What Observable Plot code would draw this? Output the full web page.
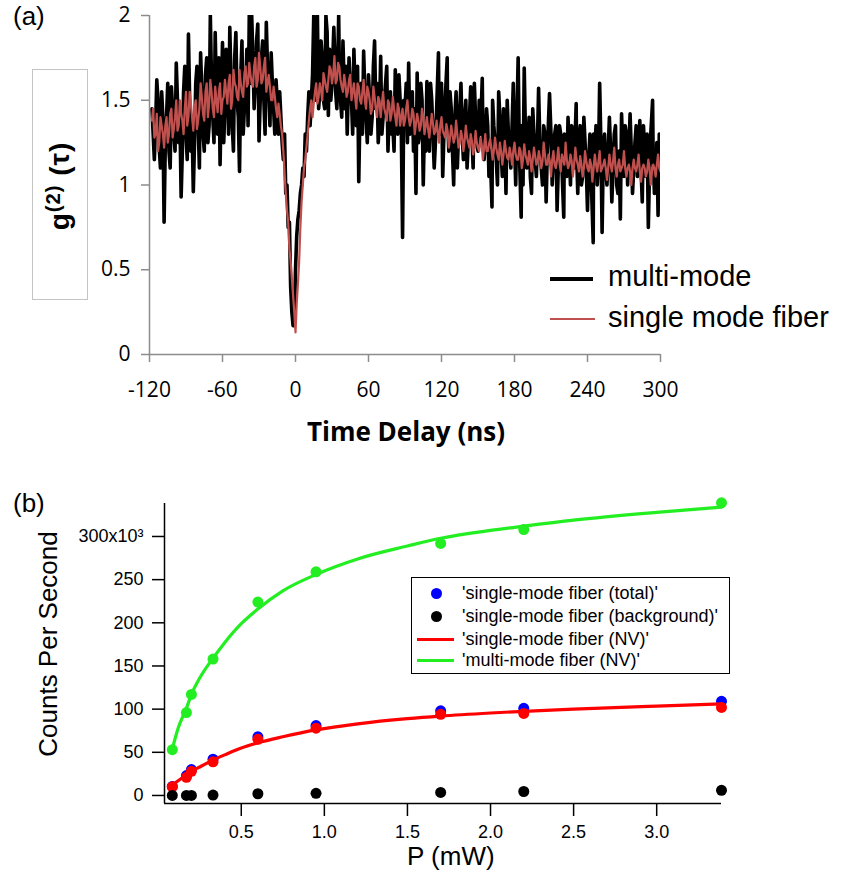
<!DOCTYPE html>
<html>
<head>
<meta charset="utf-8">
<script src="https://cdn.jsdelivr.net/npm/d3@7"></script>
<script src="https://cdn.jsdelivr.net/npm/@observablehq/plot@0.6"></script>
<style>
  body { margin: 0; background: #fff; }
  #wrap { position: relative; width: 851px; height: 875px; overflow: hidden; background: #fff; }
  #wrap svg { position: absolute; left: 0; overflow: visible; }
  .t { position: absolute; white-space: nowrap; line-height: 1; color: #000; }
  .arial { font-family: "Liberation Sans", Arial, sans-serif; }
  .open { font-family: "Open Sans", sans-serif; }
</style>
</head>
<body>
<div id="wrap">
  <div class="t arial" style="left:13px; top:3px; font-size:26px;">(a)</div>
  <div class="t arial" style="left:13px; top:490px; font-size:26px;">(b)</div>

  <div style="position:absolute; left:32px; top:69px; width:56px; height:231px; box-sizing:border-box; border:1px solid #c4c4c4;"></div>
  <div class="t arial" style="left:60px; top:186px; font-size:28px; font-weight:bold; letter-spacing:1px; transform:translate(-50%,-50%) rotate(-90deg);">g<sup style="font-size:0.72em; vertical-align:0.45em; line-height:0">(2)</sup>&nbsp;(τ)</div>

  <div class="t open" style="left:406px; top:418px; font-size:26px; font-weight:bold; transform:translateX(-50%);">Time Delay (ns)</div>

  <div style="position:absolute; left:550px; top:277px; width:43px; height:4px; background:#000;"></div>
  <div class="t arial" style="left:608px; top:261.5px; font-size:29px;">multi-mode</div>
  <div style="position:absolute; left:550px; top:318px; width:45px; height:2px; background:#c0504d;"></div>
  <div class="t arial" style="left:608px; top:302.5px; font-size:29px;">single mode fiber</div>

  <div class="t arial" style="left:48px; top:644px; font-size:26px; transform:translate(-50%,-50%) rotate(-90deg);">Counts Per Second</div>
  <div class="t arial" style="left:407px; top:843px; font-size:26px;">P (mW)</div>

  <div style="position:absolute; left:411px; top:577px; width:319px; height:97px; box-sizing:border-box; border:1.5px solid #000; background:#fff;"></div>
  <div style="position:absolute; left:430.5px; top:587.5px; width:11px; height:11px; border-radius:50%; background:#0000ff;"></div>
  <div class="t arial" style="left:462px; top:584.2px; font-size:18px;">'single-mode fiber (total)'</div>
  <div style="position:absolute; left:430.5px; top:610.5px; width:11px; height:11px; border-radius:50%; background:#000;"></div>
  <div class="t arial" style="left:462px; top:607px; font-size:18px;">'single-mode fiber (background)'</div>
  <div style="position:absolute; left:417px; top:637.5px; width:37px; height:3px; background:#ff0000;"></div>
  <div class="t arial" style="left:462px; top:629.8px; font-size:18px;">'single-mode fiber (NV)'</div>
  <div style="position:absolute; left:417px; top:658.5px; width:37px; height:3px; background:#22ee22;"></div>
  <div class="t arial" style="left:462px; top:651px; font-size:18px;">'multi-mode fiber (NV)'</div>
</div>
<script>
// ---------- Panel (a): g2(tau) ----------
const delayTicks = [-120, -60, 0, 60, 120, 180, 240, 300];
const g2Ticks = [0, 0.5, 1, 1.5, 2];

// multi-mode fiber trace [delay ns, g2] (coarse readings)
const multiMode = [
[-118,1.45],[-116,1.15],[-114,1.62],[-112,1.22],[-110,1.55],[-108,0.78],[-106,1.4],[-104,1.2],[-102,1.58],[-100,1.3],
[-98,1.72],[-96,1.25],[-94,0.93],[-92,1.55],[-90,1.3],[-88,1.89],[-86,1.2],[-84,0.96],[-82,1.6],[-80,1.35],
[-78,1.78],[-76,1.3],[-74,1.65],[-72,1.25],[-70,2.0],[-68,1.4],[-66,1.9],[-64,1.3],[-62,1.12],[-60,1.84],
[-58,1.45],[-56,1.7],[-54,1.93],[-52,1.35],[-50,1.75],[-48,1.5],[-46,1.08],[-44,1.85],[-42,1.45],[-40,1.8],
[-38,2.0],[-36,2.0],[-34,1.45],[-32,1.85],[-30,1.26],[-28,1.75],[-26,1.5],[-24,1.96],[-22,1.55],[-20,1.78],
[-18,1.45],[-16,1.62],[-14,1.3],[-12,1.4],[-10,1.15],[-9,1.3],[-8,0.95],[-7,1.0],[-6,0.75],[-5,0.78],
[-4,0.4],[-3,0.25],[-2,0.17],[-1,0.17],[0,0.5],[1,0.7],[2,0.8],[3,0.85],[4,0.95],[5,1.0],
[6,1.1],[7,1.05],[8,1.3],[10,1.4],[12,1.35],[14,1.65],[15,2.0],[16,1.5],[18,2.0],[20,1.55],
[22,1.75],[24,1.45],[26,1.9],[27,1.41],[28,1.8],[30,1.6],[31.5,1.93],[33,1.55],[35.5,2.0],[37,1.5],
[39,1.85],[40.5,1.45],[42.5,1.3],[44,1.75],[46,1.5],[48,1.8],[50,1.35],[52,1.02],[54,1.6],[56,1.79],
[58,1.4],[60,1.65],[62,1.3],[64,1.7],[66,1.45],[68,1.25],[70,1.76],[72,1.4],[74,1.6],[76,1.2],
[78,1.55],[80,1.35],[82,1.68],[84,1.3],[86,1.5],[88,0.69],[90,1.45],[92,1.25],[93,1.72],[95,1.4],
[97,1.2],[99,0.95],[100,1.66],[102,1.3],[104,1.5],[105,1.0],[106,1.35],[108,1.61],[110,1.2],[112,1.5],
[114,1.1],[116,1.45],[117.5,1.78],[119,1.3],[121,1.05],[123,1.5],[124.7,1.75],[126,1.2],[128,1.45],[130,1.0],
[132,1.55],[134,1.3],[136,1.6],[138,1.15],[140,1.5],[142,1.25],[144,1.58],[146,1.1],[148,1.4],[150,1.2],
[152,1.3],[153.5,1.63],[155,1.15],[157,1.45],[159,1.05],[161.5,0.87],[163,1.35],[165,1.15],[167,1.55],[169,1.2],
[171,1.45],[173,0.95],[175,1.3],[177,1.1],[179,1.6],[181,1.0],[183,1.75],[185.5,0.81],[188,1.69],[190,1.1],
[192,1.4],[194,0.95],[196,1.3],[198,1.05],[199.8,1.57],[202,1.1],[204,1.35],[206,0.9],[208.8,1.54],[211,1.0],
[213,1.3],[215,0.85],[217,1.35],[219,1.1],[220.5,0.81],[222,1.2],[224,1.4],[226,1.0],[228,1.3],[230.7,1.48],
[232,0.95],[234,1.35],[236,1.05],[238,1.25],[240,0.85],[242,1.3],[244.7,0.66],[246,1.2],[248,1.0],[250,1.6],
[252,0.72],[254,1.3],[256,1.0],[258,1.4],[260,0.9],[262,1.3],[264,1.0],[266,1.2],[267,0.8],[268,1.42],
[270,1.05],[272,1.3],[275,1.42],[277,0.95],[279,1.25],[281,1.05],[283,1.38],[285,0.9],[287,1.2],[290,0.75],
[292,1.3],[293.5,1.5],[295,0.95],[297,1.25],[298,0.82],[300,1.1]
];
// multi-mode fiber trace, in-between readings
const multiModeFine = [
[-117,1.3],[-115,1.35],[-113,1.5],[-111,1.1],[-109,1.4],[-107,1.25],[-105,1.6],[-103,1.1],[-101,1.45],[-99,1.2],
[-97,1.5],[-95,1.4],[-93,1.2],[-91,1.7],[-89,1.15],[-87,1.5],[-85,1.35],[-83,1.25],[-81,1.7],[-79,1.1],
[-77,1.55],[-75,1.2],[-73,1.75],[-71,1.35],[-69,1.6],[-67,1.25],[-65,1.55],[-63,1.75],[-61,1.5],[-59,1.25],
[-57,1.8],[-55,1.3],[-53,1.6],[-51,1.2],[-49,1.9],[-47,1.4],[-45,1.65],[-43,1.3],[-41,1.55],[-39,1.35],
[-37,1.6],[-35,1.75],[-33,1.6],[-31,1.95],[-29,1.5],[-27,1.85],[-25,1.3],[-23,1.7],[-21,1.35],[-19,1.6],
[-17,1.3],[-15,1.5],[-13,1.55],[-11,1.25],
[9,1.2],[11,1.55],[13,1.5],[17,1.6],[19,1.45],[21,1.85],[23,1.5],[25,2.0],[29,1.5],[32.5,1.7],
[34,1.45],[36,1.7],[38,1.4],[41.5,1.7],[43,1.45],[45,1.6],[47,1.3],[49,1.55],[51,1.7],[53,1.45],
[55,1.3],[57,1.55],[59,1.25],[61,1.5],[63,1.4],[65,1.85],[67,1.6],[69,1.4],[71,1.3],[73,1.5],
[75,1.7],[77,1.45],[79,1.3],[81,1.2],[83,1.45],[85,1.65],[87,1.3],[89,1.5],[91,1.6],[94,1.3],
[96,1.55],[98,1.45],[101,1.25],[103,1.6],[107,1.2],[109,1.4],[111,1.6],[113,1.3],[115,1.25],[118,1.4],
[120,1.6],[122,1.3],[125,1.4],[127,1.55],[129,1.2],[131,1.4],[133,1.1],[135,1.45],[137,1.3],[139,1.4],
[141,1.1],[143,1.4],[145,1.3],[147,1.6],[149,1.25],[151,1.5],[154,1.3],[156,1.25],[158,1.35],[160,1.2],
[162,1.5],[164,1.25],[166,1.0],[168,1.4],[170,1.05],[172,1.3],[174,1.5],[176,1.2],[178,1.35],[180,1.25],
[182,1.4],[184,1.2],[186,1.35],[187,1.0],[189,1.3],[191,1.25],[193,1.05],[195,1.45],[197,1.15],[199,1.3],
[201,1.2],[203,1.0],[205,1.3],[207,1.2],[210,1.3],[212,1.15],[214,1.35],[216,1.1],[218,1.3],[221,1.3],
[223,1.05],[225,1.2],[227,1.35],[229,1.1],[231,1.2],[233,1.25],[235,1.0],[237,1.4],[239,1.1],[241,1.15],
[243,1.05],[245,1.3],[247,1.35],[249,1.15],[251,1.25],[253,1.2],[255,1.1],[257,1.2],[259,1.2],[261,1.1],
[263,1.35],[265,0.95],[269,1.2],[271,1.35],[273,1.0],[274,1.2],[276,1.2],[278,1.1],[280,1.35],[282,1.15],
[284,1.1],[286,1.35],[288,1.05],[289,1.3],[291,1.1],[294,1.15],[296,1.1],[299,1.3]
];

// single mode fiber trace [delay ns, g2] (coarse readings)
const singleMode = [
[-118,1.38],[-116,1.28],[-114,1.42],[-112,1.25],[-110,1.35],[-108,1.22],[-106,1.4],[-104,1.3],[-102,1.45],[-100,1.33],
[-98,1.5],[-96,1.35],[-94,1.42],[-92,1.3],[-90,1.55],[-88,1.4],[-86,1.48],[-84,1.32],[-82,1.5],[-80,1.38],
[-78,1.6],[-76,1.42],[-74,1.55],[-72,1.4],[-70,1.62],[-68,1.45],[-66,1.58],[-64,1.43],[-62,1.6],[-60,1.5],
[-58,1.62],[-56,1.48],[-54,1.65],[-52,1.5],[-50,1.6],[-48,1.52],[-46,1.68],[-44,1.55],[-42,1.66],[-40,1.58],
[-38,1.72],[-36,1.6],[-34,1.7],[-32,1.58],[-30,1.78],[-28,1.6],[-26,1.7],[-24,1.55],[-22,1.65],[-20,1.5],
[-18,1.58],[-16,1.45],[-14,1.48],[-12,1.35],[-10,1.2],[-8,0.95],[-7,0.85],[-6,0.78],[-5,0.62],[-4,0.55],
[-3,0.45],[-2,0.35],[-1,0.25],[0,0.13],[1,0.3],[2,0.42],[3,0.55],[4,0.75],[5,0.9],[6,1.0],
[7,1.1],[8,1.15],[10,1.3],[12,1.45],[14,1.4],[16,1.55],[18,1.48],[20,1.6],[22,1.5],[24,1.62],
[26,1.55],[28,1.7],[30,1.6],[32,1.76],[34,1.62],[36,1.7],[38,1.58],[40,1.65],[42,1.52],[44,1.62],
[46,1.5],[48,1.6],[50,1.45],[52,1.58],[54,1.48],[56,1.62],[58,1.45],[60,1.55],[62,1.42],[64,1.58],
[66,1.45],[68,1.52],[70,1.4],[72,1.55],[74,1.42],[76,1.5],[78,1.38],[80,1.52],[82,1.4],[84,1.48],
[86,1.35],[88,1.45],[90,1.38],[92,1.5],[94,1.35],[96,1.45],[98,1.3],[100,1.42],[102,1.32],[104,1.45],
[106,1.3],[108,1.4],[110,1.28],[112,1.42],[114,1.3],[116,1.38],[118,1.25],[120,1.4],[122,1.3],[124,1.36],
[126,1.22],[128,1.35],[130,1.25],[132,1.38],[134,1.22],[136,1.32],[138,1.2],[140,1.35],[142,1.25],[144,1.3],
[146,1.18],[148,1.32],[150,1.22],[152,1.28],[154,1.15],[156,1.3],[158,1.2],[160,1.27],[162,1.15],[164,1.28],
[166,1.18],[168,1.25],[170,1.12],[172,1.26],[174,1.16],[176,1.22],[178,1.12],[180,1.25],[182,1.15],[184,1.22],
[186,1.1],[188,1.24],[190,1.15],[192,1.2],[194,1.08],[196,1.22],[198,1.12],[200,1.2],[202,1.1],[204,1.25],
[206,1.12],[208,1.18],[210,1.05],[212,1.2],[214,1.1],[216,1.22],[218,1.08],[220,1.15],[222,1.25],[224,1.1],
[226,1.18],[228,1.05],[230,1.22],[232,1.12],[234,1.17],[236,1.05],[238,1.2],[240,1.1],[242,1.15],[244,1.02],
[246,1.18],[248,1.08],[250,1.2],[252,1.1],[254,1.15],[256,1.03],[258,1.18],[260,1.08],[262,1.22],[264,1.05],
[266,1.15],[268,1.1],[270,1.2],[272,1.05],[274,1.12],[276,1.0],[278,1.15],[280,1.08],[282,1.18],[284,1.02],
[286,1.12],[288,1.05],[290,1.15],[292,1.0],[294,1.12],[296,1.05],[298,1.18],[300,1.08]
];
// single mode fiber trace, in-between readings
const singleModeFine = [
[-117,1.45],[-115,1.3],[-113,1.2],[-111,1.4],[-109,1.3],[-107,1.35],[-105,1.25],[-103,1.42],[-101,1.28],
[-99,1.4],[-97,1.32],[-95,1.5],[-93,1.38],[-91,1.45],[-89,1.35],[-87,1.55],[-85,1.4],[-83,1.45],[-81,1.33],
[-79,1.45],[-77,1.52],[-75,1.38],[-73,1.6],[-71,1.48],[-69,1.55],[-67,1.4],[-65,1.5],[-63,1.55],[-61,1.42],
[-59,1.52],[-57,1.55],[-55,1.6],[-53,1.45],[-51,1.68],[-49,1.58],[-47,1.5],[-45,1.6],[-43,1.52],[-41,1.7],
[-39,1.6],[-37,1.65],[-35,1.58],[-33,1.75],[-31,1.62],[-29,1.7],[-27,1.62],[-25,1.75],[-23,1.6],[-21,1.58],
[-19,1.5],[-17,1.52],[-15,1.4],[-13,1.42],[-11,1.3],
[11,1.38],[13,1.5],[15,1.48],[17,1.6],[19,1.52],[21,1.56],[23,1.66],[25,1.58],[27,1.62],[29,1.68],
[31,1.65],[33,1.6],[35,1.72],[37,1.62],[39,1.55],[41,1.6],[43,1.55],[45,1.65],[47,1.55],[49,1.52],
[51,1.6],[53,1.5],[55,1.55],[57,1.5],[59,1.58],[61,1.5],[63,1.45],[65,1.52],[67,1.4],[69,1.5],
[71,1.48],[73,1.45],[75,1.38],[77,1.48],[79,1.42],[81,1.45],[83,1.35],[85,1.45],[87,1.4],[89,1.35],
[91,1.45],[93,1.4],[95,1.38],[97,1.42],[99,1.36],[101,1.38],[103,1.35],[105,1.4],[107,1.35],[109,1.33],
[111,1.35],[113,1.36],[115,1.32],[117,1.3],[119,1.35],[121,1.32],[123,1.28],[125,1.32],[127,1.28],[129,1.3],
[131,1.28],[133,1.3],[135,1.25],[137,1.28],[139,1.26],[141,1.28],[143,1.22],[145,1.26],[147,1.22],[149,1.25],
[151,1.2],[153,1.24],[155,1.22],[157,1.2],[159,1.24],[161,1.22],[163,1.2],[165,1.22],[167,1.15],[169,1.2],
[171,1.18],[173,1.2],[175,1.15],[177,1.18],[179,1.2],[181,1.18],[183,1.15],[185,1.2],[187,1.15],[189,1.18],
[191,1.12],[193,1.16],[195,1.15],[197,1.17],[199,1.14],[201,1.16],[203,1.14],[205,1.18],[207,1.12],[209,1.14],
[211,1.15],[213,1.12],[215,1.15],[217,1.13],[219,1.18],[221,1.12],[223,1.15],[225,1.12],[227,1.14],[229,1.12],
[231,1.15],[233,1.08],[235,1.12],[237,1.1],[239,1.14],[241,1.08],[243,1.12],[245,1.1],[247,1.12],[249,1.14],
[251,1.08],[253,1.12],[255,1.1],[257,1.1],[259,1.12],[261,1.14],[263,1.1],[265,1.12],[267,1.08],[269,1.12],
[271,1.1],[273,1.1],[275,1.08],[277,1.1],[279,1.1],[281,1.12],[283,1.08],[285,1.1],[287,1.1],[289,1.08],
[291,1.1],[293,1.08],[295,1.1],[297,1.12],[299,1.1]
];

// ---------- Panel (b): counts vs power ----------
const powerTicks = [0.5, 1.0, 1.5, 2.0, 2.5, 3.0];
const countTicks = [0, 50, 100, 150, 200, 250, 300];
const power = [0.085, 0.17, 0.2, 0.33, 0.6, 0.95, 1.7, 2.2, 3.39];
const smTotal = [10.5, 23, 30, 42, 68, 81, 98, 101, 109];
const smBackground = [0, 0, 0, 0.5, 2, 2.5, 3.5, 4.6, 6];
const smNV = [10, 21, 28, 39, 65, 78, 94, 95, 102];
const mmNV = [53, 96, 117, 158, 224, 259, 292, 308, 339];
// fitted curves [P mW, kcounts/s]
const smFit = [[0.085,12],[0.12,17],[0.17,24],[0.2,28],[0.25,33],[0.33,41],[0.4,47],[0.5,55],[0.6,61],[0.75,68],
  [0.95,76],[1.2,83],[1.5,89],[1.7,92],[2.0,95.5],[2.2,97.5],[2.5,100],[3.0,103.5],[3.39,106]];
const mmFit = [[0.085,54],[0.12,78],[0.17,101],[0.2,117],[0.25,136],[0.33,159],[0.4,177],[0.5,199],[0.6,216],[0.75,237],
  [0.95,256],[1.2,274],[1.5,289],[1.7,298],[2.0,307],[2.2,312],[2.5,319],[3.0,328],[3.39,334]];

const wrap = document.getElementById("wrap");
const byDelay = (a, b) => d3.sort(a.concat(b), d => d[0]);

const plotA = Plot.plot({
  width: 851, height: 460,
  marginLeft: 149, marginRight: 191, marginTop: 15, marginBottom: 106,
  x: {domain: [-120, 300]},
  y: {domain: [0, 2]},
  style: {fontFamily: "'Open Sans', sans-serif", fontSize: "21px", color: "#000", background: "transparent"},
  marks: [
    Plot.line(byDelay(multiMode, multiModeFine), {x: d => d[0], y: d => d[1], stroke: "#000", strokeWidth: 3.6, clip: true}),
    Plot.line(byDelay(singleMode, singleModeFine), {x: d => d[0], y: d => d[1], stroke: "#c0504d", strokeWidth: 2.2, clip: true}),
    Plot.ruleX([-120], {stroke: "#8c8c8c", strokeWidth: 1.5}),
    Plot.ruleY([0], {stroke: "#8c8c8c", strokeWidth: 1.5}),
    Plot.axisX(delayTicks, {tickSize: 8, tickPadding: 20, stroke: "#8c8c8c", strokeWidth: 1.5, label: null, tickFormat: d => String(d)}),
    Plot.axisY(g2Ticks, {tickSize: 8, tickPadding: 11, stroke: "#8c8c8c", strokeWidth: 1.5, label: null, tickFormat: d => String(d)})
  ]
});
plotA.style.top = "0px";
wrap.appendChild(plotA);

const pts = (ys) => power.map((p, i) => ({p, v: ys[i]}));

const plotB = Plot.plot({
  width: 851, height: 405,
  marginLeft: 164, marginRight: 130, marginTop: 33, marginBottom: 72,
  x: {domain: [0.038, 3.39]},
  y: {domain: [-9.3, 338.2]},
  style: {fontFamily: "'Liberation Sans', Arial, sans-serif", fontSize: "18px", color: "#000", background: "transparent"},
  marks: [
    Plot.line(mmFit, {x: d => d[0], y: d => d[1], stroke: "#22ee22", strokeWidth: 3.2, curve: "monotone-x"}),
    Plot.dot(pts(mmNV), {x: "p", y: "v", r: 5.5, fill: "#22ee22"}),
    Plot.dot(pts(smTotal), {x: "p", y: "v", r: 5.5, fill: "#0000ff"}),
    Plot.dot(pts(smNV), {x: "p", y: "v", r: 5.5, fill: "#ff0000"}),
    Plot.line(smFit, {x: d => d[0], y: d => d[1], stroke: "#ff0000", strokeWidth: 3.2, curve: "monotone-x"}),
    Plot.dot(pts(smBackground), {x: "p", y: "v", r: 5.5, fill: "#000"}),
    Plot.ruleX([0.038], {stroke: "#000", strokeWidth: 1.5}),
    Plot.ruleY([-9.3], {stroke: "#000", strokeWidth: 1.5}),
    Plot.axisX(powerTicks, {tickSize: 13, tickPadding: 9, stroke: "#000", strokeWidth: 1.5, label: null, tickFormat: d => d.toFixed(1)}),
    Plot.axisY(countTicks, {tickSize: 12, tickPadding: 9, stroke: "#000", strokeWidth: 1.5, label: null, tickFormat: d => d === 300 ? "300x10³" : String(d)})
  ]
});
plotB.style.top = "470px";
wrap.appendChild(plotB);
</script>
</body>
</html>
